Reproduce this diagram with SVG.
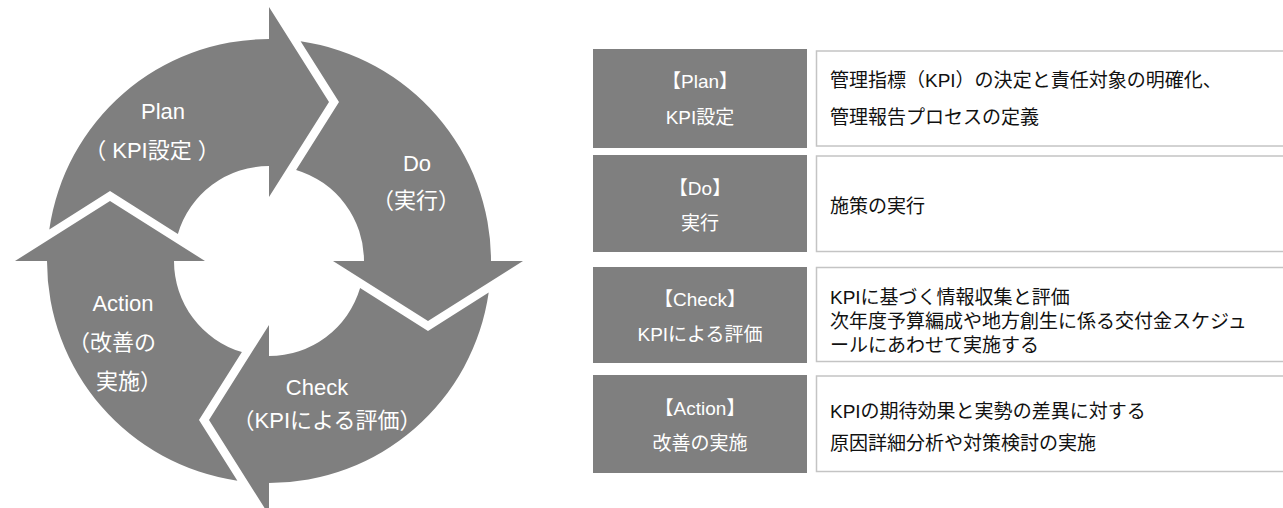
<svg xmlns="http://www.w3.org/2000/svg" xmlns:xlink="http://www.w3.org/1999/xlink" width="1283" height="508" viewBox="0 0 1283 508">
<style>
.arrow{fill:#7f7f7f}
.lbl{font-family:"Liberation Sans","Noto Sans CJK JP",sans-serif;font-size:22px;fill:#ffffff;text-anchor:middle}
.lbls{font-family:"Liberation Sans","Noto Sans CJK JP",sans-serif;font-size:22px;fill:#ffffff}
.gbox{fill:#7f7f7f}
.wbox{fill:#ffffff;stroke:#c4c4c4;stroke-width:1.5}
.gt{font-family:"Liberation Sans","Noto Sans CJK JP",sans-serif;font-size:19px;fill:#ffffff;text-anchor:middle}
.wt{font-family:"Liberation Sans","Noto Sans CJK JP",sans-serif;font-size:19px;fill:#111111}
</style>
<defs>
<path id="arr" d="M -219.7,-31.6 A 222 222 0 0 1 0,-222 L 0,-254 L 60,-159 L 0,-64 L 0,-95 A 95 95 0 0 0 -91.1,-27.1 L -159,-70 Z"/>
</defs>
<g id="cycle">
<g id="plan">
<use xlink:href="#arr" href="#arr" class="arrow" transform="translate(269,261)"/>
<text class="lbl" x="163" y="119">Plan</text>
<text class="lbl" x="152" y="158">（ KPI設定 ）</text>
</g>
<g id="do">
<use xlink:href="#arr" href="#arr" class="arrow" transform="translate(269,261) rotate(90)"/>
<text class="lbl" x="417" y="171">Do</text>
<text class="lbl" x="416" y="208">（実行）</text>
</g>
<g id="check">
<use xlink:href="#arr" href="#arr" class="arrow" transform="translate(269,261) rotate(180)"/>
<text class="lbl" x="317" y="395">Check</text>
<text class="lbl" x="327" y="428">（KPIによる評価）</text>
</g>
<g id="action">
<use xlink:href="#arr" href="#arr" class="arrow" transform="translate(269,261) rotate(270)"/>
<text class="lbl" x="123" y="311">Action</text>
<text class="lbls" x="68" y="350">（改善の</text>
<text class="lbls" x="96" y="389">実施）</text>
</g>
</g>
<g id="connectors"></g>
<g id="row-plan">
<rect class="gbox" x="593" y="49" width="214" height="99"/>
<rect class="wbox" x="816.5" y="51" width="480" height="95"/>
<text class="gt" x="700" y="88">【Plan】</text>
<text class="gt" x="700" y="124">KPI設定</text>
<text class="wt" x="830" y="87">管理指標（KPI）の決定と責任対象の明確化、</text>
<text class="wt" x="830" y="124">管理報告プロセスの定義</text>
</g>
<g id="row-do">
<rect class="gbox" x="593" y="155" width="214" height="97"/>
<rect class="wbox" x="816.5" y="156" width="480" height="95.5"/>
<text class="gt" x="700" y="195">【Do】</text>
<text class="gt" x="700" y="230">実行</text>
<text class="wt" x="830" y="213">施策の実行</text>
</g>
<g id="row-check">
<rect class="gbox" x="593" y="267" width="214" height="96"/>
<rect class="wbox" x="816.5" y="267.5" width="480" height="94"/>
<text class="gt" x="700" y="306">【Check】</text>
<text class="gt" x="700" y="341">KPIによる評価</text>
<text class="wt" x="830" y="304">KPIに基づく情報収集と評価</text>
<text class="wt" x="830" y="328">次年度予算編成や地方創生に係る交付金スケジュ</text>
<text class="wt" x="830" y="352">ールにあわせて実施する</text>
</g>
<g id="row-action">
<rect class="gbox" x="593" y="375" width="214" height="98"/>
<rect class="wbox" x="816.5" y="376" width="480" height="95.5"/>
<text class="gt" x="700" y="415">【Action】</text>
<text class="gt" x="700" y="450">改善の実施</text>
<text class="wt" x="830" y="418">KPIの期待効果と実勢の差異に対する</text>
<text class="wt" x="830" y="450">原因詳細分析や対策検討の実施</text>
</g>
</svg>
